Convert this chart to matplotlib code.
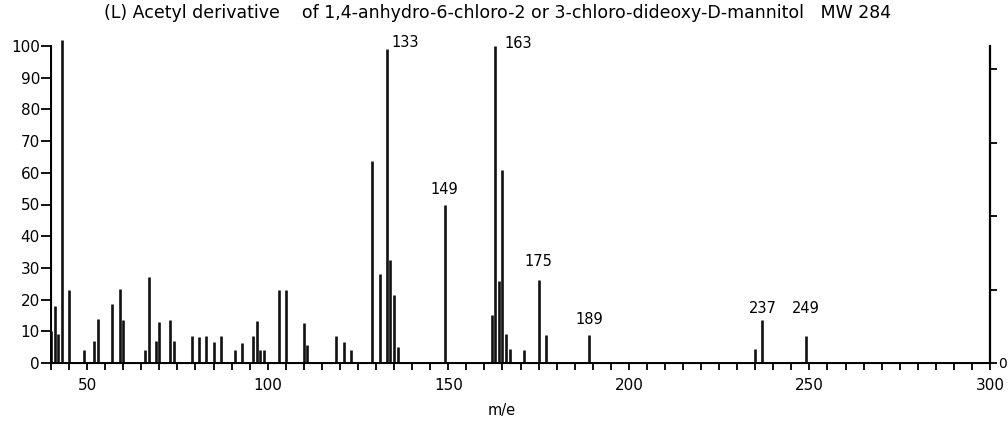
import matplotlib.pyplot as plt
import numpy as np

# m/e and relative intensity
mz = np.array([40, 41, 42, 43, 45, 49, 52, 53, 57, 59, 60, 66, 67, 69, 70,
               73, 74, 79, 81, 83, 85, 87, 91, 93, 96, 97, 98, 99, 103, 105,
               110, 111, 119, 121, 123, 129, 131, 133, 134, 135, 136, 149,
               162, 163, 164, 165, 166, 167, 171, 175, 177, 189, 235, 237, 249])
inten = np.array([10, 18, 9, 102, 23, 4, 7, 14, 18.5, 23.5, 13.5, 4, 27, 7, 13,
                  13.5, 7, 8.6, 8.3, 8.5, 6.7, 8.6, 4.2, 6.4, 8.5, 13.2, 4.2, 4, 23, 23,
                  12.7, 5.7, 8.6, 6.6, 4.2, 63.7, 28, 99, 32.5, 21.5, 5, 50,
                  15, 100, 26, 61, 9, 4.4, 4.1, 26.2, 8.8, 8.8, 4.3, 13.6, 8.5])

# labelled peaks and the label offset in pixels
lab_mz = [133, 149, 163, 175, 189, 237, 249]
lab_off = {133: (5, 7, 'left'), 149: (0, 8, 'center'), 163: (9, 3, 'left'),
           175: (0, 11, 'center'), 189: (0, 8, 'center'), 237: (0, 4, 'center'),
           249: (0, 20, 'center')}

title = ('(L) Acetyl derivative    of 1,4-anhydro-6-chloro-2 or '
         '3-chloro-dideoxy-D-mannitol   MW 284')

fig = plt.figure(figsize=(10.08, 4.21), dpi=100)
ax = fig.add_axes([51 / 1008, 1 - 363 / 421, (990 - 51) / 1008, (363 - 46) / 421])

ax.vlines(mz, 0, inten, colors='#111111', linewidth=1.9, clip_on=False)

ax.set_xlim(40, 300)
ax.set_ylim(0, 100)
ax.set_xticks(np.arange(50, 301, 50))
ax.set_xticks(np.arange(40, 301, 5), minor=True)
ax.set_yticks(np.arange(0, 101, 10))
ax.tick_params(axis='y', direction='out', length=7, width=1.3, pad=1, labelsize=11)
ax.tick_params(axis='x', which='both', direction='out', length=5, width=1.3,
               pad=6, labelsize=11)
ax.spines['top'].set_visible(False)
for s in ['left', 'bottom', 'right']:
    ax.spines[s].set_linewidth(1.4)

# right hand scale
ax2 = ax.twinx()
ax2.set_ylim(0, 100 / 92.7 * 20)
ax2.set_yticks([0, 5, 10, 15, 20])
ax2.set_yticklabels(['0', '', '', '', ''])
ax2.tick_params(axis='y', direction='out', length=5, width=1.3, pad=1, labelsize=10)
ax2.spines['top'].set_visible(False)
ax2.spines['right'].set_linewidth(1.6)

for m in lab_mz:
    v = inten[list(mz).index(m)]
    dx, dy, ha = lab_off[m]
    ax.annotate(str(m), (m, v), xytext=(dx, dy), textcoords='offset pixels',
                ha=ha, va='bottom' if ha == 'center' else 'center', fontsize=10.5)

fig.text(0.494, 1 - 13 / 421, title, ha='center', va='center', fontsize=12.5)
fig.text(502 / 1008, 1 - 410 / 421, 'm/e', ha='center', va='center', fontsize=10.5)

fig.savefig('out.png', dpi=100)
